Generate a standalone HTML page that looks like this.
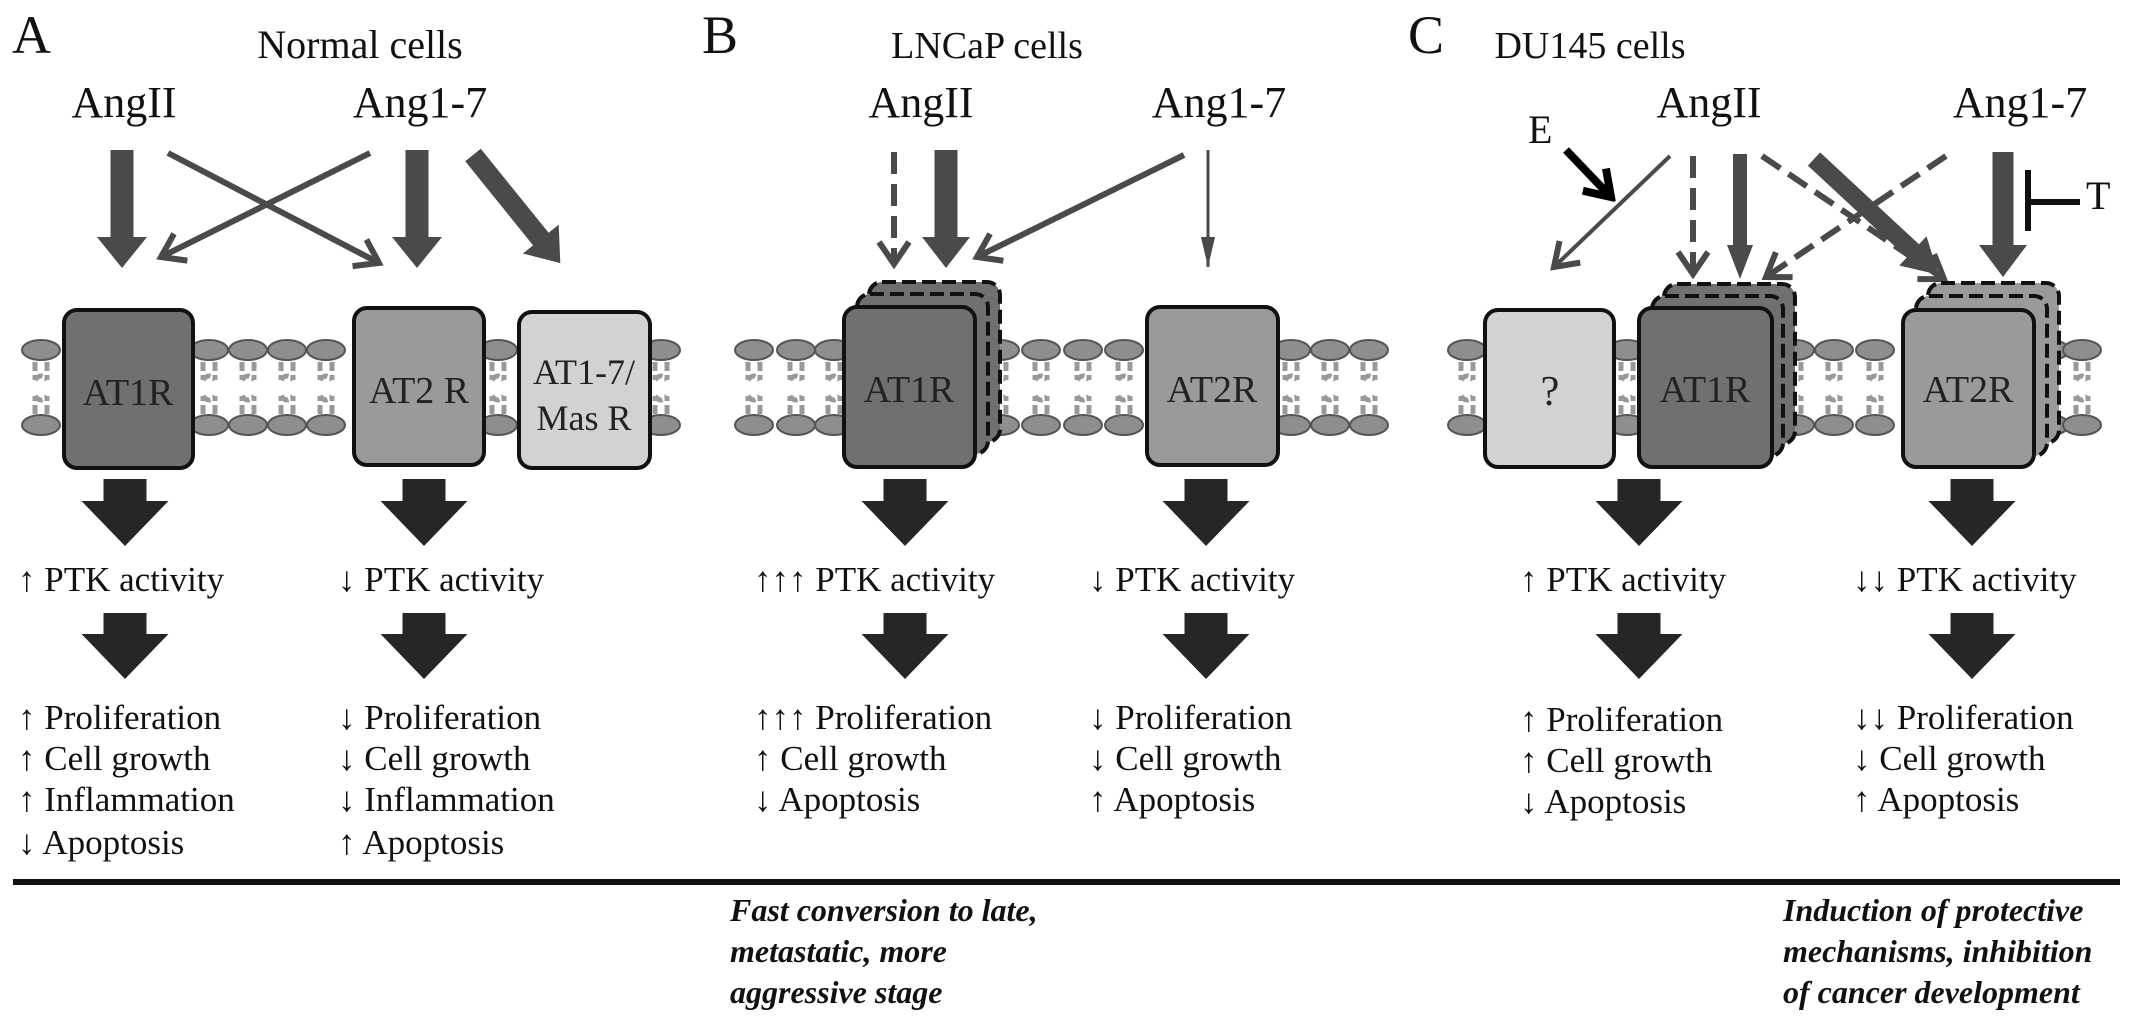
<!DOCTYPE html>
<html><head><meta charset="utf-8"><style>
html,body{margin:0;padding:0;background:#fff;}
svg{display:block;}
text{font-family:"Liberation Serif",serif;fill:#111;}
.t{font-size:35px;}
.h{font-size:38px;}
.g{font-size:44px;}
.L{font-size:54px;}
.bx{font-size:38px;fill:#222;}
.it{font-size:32px;font-weight:bold;font-style:italic;}
</style></head><body>
<svg width="2150" height="1025" viewBox="0 0 2150 1025" xmlns="http://www.w3.org/2000/svg">
<defs>
<marker id="op" markerUnits="userSpaceOnUse" viewBox="-30 -20 36 40" refX="0" refY="0" markerWidth="36" markerHeight="40" orient="auto">
<path d="M-22,-15 L0,0 L-22,15" fill="none" stroke="#4a4a4a" stroke-width="6"/></marker>
<marker id="opb" markerUnits="userSpaceOnUse" viewBox="-30 -20 36 40" refX="0" refY="0" markerWidth="36" markerHeight="40" orient="auto">
<path d="M-24,-16 L0,0 L-24,16" fill="none" stroke="#000" stroke-width="8"/></marker>
<marker id="fs" markerUnits="userSpaceOnUse" viewBox="-30 -20 36 40" refX="0" refY="0" markerWidth="36" markerHeight="40" orient="auto">
<path d="M-34,-8 L0,0 L-34,8 Z" fill="#4a4a4a"/></marker>
<g id="head"><ellipse cx="0" cy="0" rx="19" ry="10" fill="#8e8e8e" stroke="#555" stroke-width="2"/></g>
<g id="lip">
<use href="#head" y="350"/><use href="#head" y="425"/>
<path d="M-6,414 V396 M6,414 V396 M-6,362 V380 M6,362 V380 M-6,380 Q0,372 6,380 M-6,396 Q0,404 6,396" fill="none" stroke="#999" stroke-width="5" stroke-dasharray="9 4"/>
</g>
</defs>

<text class="L" x="12" y="53">A</text>
<text class="L" x="702" y="53">B</text>
<text class="L" x="1408" y="53">C</text>
<text class="h" x="360" y="58" text-anchor="middle" style="font-size:40px">Normal cells</text>
<text class="h" x="987" y="58" text-anchor="middle">LNCaP cells</text>
<text class="h" x="1590" y="58" text-anchor="middle">DU145 cells</text>
<text class="g" x="124" y="117" text-anchor="middle">AngII</text>
<text class="g" x="420" y="117" text-anchor="middle">Ang1-7</text>
<text class="g" x="921" y="117" text-anchor="middle">AngII</text>
<text class="g" x="1219" y="117" text-anchor="middle">Ang1-7</text>
<text class="g" x="1709" y="117" text-anchor="middle">AngII</text>
<text class="g" x="2020" y="117" text-anchor="middle">Ang1-7</text>

<g fill="#4a4a4a">
<path d="M110.5,150 H133.5 V237 H147 L122,268 L97,237 H110.5 Z"/>
<path d="M405.5,150 H428.5 V237 H442 L417,268 L392,237 H405.5 Z"/>
<g transform="translate(473,155) rotate(51.1)"><path d="M0,-10 H108 V-23 L139,0 L108,23 V10 H0 Z"/></g>
</g>
<g stroke="#4a4a4a" stroke-width="6" fill="none">
<line x1="168" y1="153" x2="379" y2="263" marker-end="url(#op)"/>
<line x1="370" y1="153" x2="161" y2="257" marker-end="url(#op)"/>
</g>

<g fill="#4a4a4a">
<path d="M934.5,150 H957.5 V237 H970 L946,268 L922,237 H934.5 Z"/>
</g>
<g stroke="#4a4a4a" fill="none">
<line x1="894" y1="152" x2="894" y2="264" stroke-width="6" stroke-dasharray="22 10" marker-end="url(#op)"/>
<line x1="1184" y1="155" x2="977" y2="257" stroke-width="6" marker-end="url(#op)"/>
<line x1="1208" y1="150" x2="1208" y2="267" stroke-width="3" marker-end="url(#fs)"/>
</g>

<line x1="1566" y1="150" x2="1611" y2="197" stroke="#000" stroke-width="8" marker-end="url(#opb)"/>
<g stroke="#4a4a4a" fill="none">
<line x1="1670" y1="156" x2="1554" y2="267" stroke-width="4" marker-end="url(#op)"/>
<line x1="1693" y1="156" x2="1693" y2="274" stroke-width="6" stroke-dasharray="22 10" marker-end="url(#op)"/>
<line x1="1762" y1="156" x2="1944" y2="279" stroke-width="6" stroke-dasharray="22 10" marker-end="url(#op)"/>
<line x1="1946" y1="156" x2="1766" y2="277" stroke-width="6" stroke-dasharray="22 10" marker-end="url(#op)"/>
</g>
<g fill="#4a4a4a">
<path d="M1733,154 H1747 V245 H1753 L1740,279 L1727,245 H1733 Z"/>
<g transform="translate(1814,159) rotate(42.9)"><path d="M0,-9 H135 V-20 L170,0 L135,20 V9 H0 Z"/></g>
<path d="M1992.5,152 H2013.5 V245 H2027 L2003,277 L1979,245 H1992.5 Z"/>
</g>
<path d="M2028,170 V231 M2028,202 H2080" stroke="#111" stroke-width="6" fill="none"/>
<text class="h" x="2086" y="209" style="font-size:40px">T</text>
<text class="h" x="1528" y="143" style="font-size:40px">E</text>

<g>
<use href="#lip" x="41"/><use href="#lip" x="209"/><use href="#lip" x="248"/><use href="#lip" x="287"/><use href="#lip" x="326"/><use href="#lip" x="498"/><use href="#lip" x="661"/>
<use href="#lip" x="754"/><use href="#lip" x="796"/><use href="#lip" x="834"/><use href="#lip" x="1000"/><use href="#lip" x="1041"/><use href="#lip" x="1083"/><use href="#lip" x="1124"/><use href="#lip" x="1291"/><use href="#lip" x="1330"/><use href="#lip" x="1369"/>
<use href="#lip" x="1467"/><use href="#lip" x="1627"/><use href="#lip" x="1795"/><use href="#lip" x="1834"/><use href="#lip" x="1875"/><use href="#lip" x="2050"/><use href="#lip" x="2082"/>
</g>

<g stroke="#111" stroke-width="4">
<rect x="64" y="310" width="129" height="158" rx="13" fill="#707070"/>
<rect x="354" y="308" width="130" height="157" rx="13" fill="#9a9a9a"/>
<rect x="519" y="312" width="131" height="156" rx="13" fill="#d2d2d2"/>
</g>
<text class="bx" x="128" y="405" text-anchor="middle">AT1R</text>
<text class="bx" x="419" y="403" text-anchor="middle">AT2 R</text>
<text class="bx" x="584" y="384" text-anchor="middle" style="font-size:36px">AT1-7/</text>
<text class="bx" x="584" y="430" text-anchor="middle" style="font-size:36px">Mas R</text>

<g stroke="#111" stroke-width="4">
<rect x="869" y="282" width="131" height="160" rx="13" fill="#707070" stroke-dasharray="14 6"/>
<rect x="857" y="294" width="131" height="160" rx="13" fill="#707070" stroke-dasharray="14 6"/>
<rect x="844" y="307" width="131" height="160" rx="13" fill="#707070"/>
<rect x="1147" y="307" width="131" height="158" rx="13" fill="#9a9a9a"/>
</g>
<text class="bx" x="909" y="402" text-anchor="middle">AT1R</text>
<text class="bx" x="1212" y="402" text-anchor="middle">AT2R</text>

<g stroke="#111" stroke-width="4">
<rect x="1485" y="310" width="129" height="157" rx="13" fill="#d2d2d2"/>
<rect x="1664" y="284" width="131" height="160" rx="13" fill="#707070" stroke-dasharray="14 6"/>
<rect x="1652" y="296" width="131" height="160" rx="13" fill="#707070" stroke-dasharray="14 6"/>
<rect x="1639" y="308" width="133" height="159" rx="13" fill="#707070"/>
<rect x="1928" y="283" width="131" height="160" rx="13" fill="#9a9a9a" stroke-dasharray="14 6"/>
<rect x="1916" y="296" width="131" height="160" rx="13" fill="#9a9a9a" stroke-dasharray="14 6"/>
<rect x="1903" y="310" width="131" height="157" rx="13" fill="#9a9a9a"/>
</g>
<text class="bx" x="1550" y="405" text-anchor="middle" style="font-size:42px">?</text>
<text class="bx" x="1705" y="402" text-anchor="middle">AT1R</text>
<text class="bx" x="1968" y="402" text-anchor="middle">AT2R</text>

<g fill="#262626">
<path id="ba" d="M-21.5,479 H21.5 V501 H43.5 L0,546 L-43.5,501 H-21.5 Z M-21.5,613 H21.5 V634 H43.5 L0,679 L-43.5,634 H-21.5 Z" transform="translate(125,0)"/>
<use href="#ba" x="299"/>
<use href="#ba" x="780"/>
<use href="#ba" x="1081"/>
<use href="#ba" x="1514"/>
<use href="#ba" x="1847"/>
</g>

<g class="t">
<text class="t" x="18" y="591">↑ PTK activity</text>
<text class="t" x="18" y="729">↑ Proliferation</text>
<text class="t" x="18" y="770">↑ Cell growth</text>
<text class="t" x="18" y="811">↑ Inflammation</text>
<text class="t" x="18" y="854">↓ Apoptosis</text>

<text class="t" x="338" y="591">↓ PTK activity</text>
<text class="t" x="338" y="729">↓ Proliferation</text>
<text class="t" x="338" y="770">↓ Cell growth</text>
<text class="t" x="338" y="811">↓ Inflammation</text>
<text class="t" x="338" y="854">↑ Apoptosis</text>

<text class="t" x="754" y="591">↑↑↑ PTK activity</text>
<text class="t" x="754" y="729">↑↑↑ Proliferation</text>
<text class="t" x="754" y="770">↑ Cell growth</text>
<text class="t" x="754" y="811">↓ Apoptosis</text>

<text class="t" x="1089" y="591">↓ PTK activity</text>
<text class="t" x="1089" y="729">↓ Proliferation</text>
<text class="t" x="1089" y="770">↓ Cell growth</text>
<text class="t" x="1089" y="811">↑ Apoptosis</text>

<text class="t" x="1520" y="591">↑ PTK activity</text>
<text class="t" x="1520" y="731">↑ Proliferation</text>
<text class="t" x="1520" y="772">↑ Cell growth</text>
<text class="t" x="1520" y="813">↓ Apoptosis</text>

<text class="t" x="1853" y="591">↓↓ PTK activity</text>
<text class="t" x="1853" y="729">↓↓ Proliferation</text>
<text class="t" x="1853" y="770">↓ Cell growth</text>
<text class="t" x="1853" y="811">↑ Apoptosis</text>
</g>

<rect x="13" y="879" width="2107" height="6" fill="#111"/>

<text class="it" x="730" y="921">Fast conversion to late,</text>
<text class="it" x="730" y="962">metastatic, more</text>
<text class="it" x="730" y="1003">aggressive stage</text>
<text class="it" x="1783" y="921">Induction of protective</text>
<text class="it" x="1783" y="962">mechanisms, inhibition</text>
<text class="it" x="1783" y="1003">of cancer development</text>
</svg>
</body></html>
